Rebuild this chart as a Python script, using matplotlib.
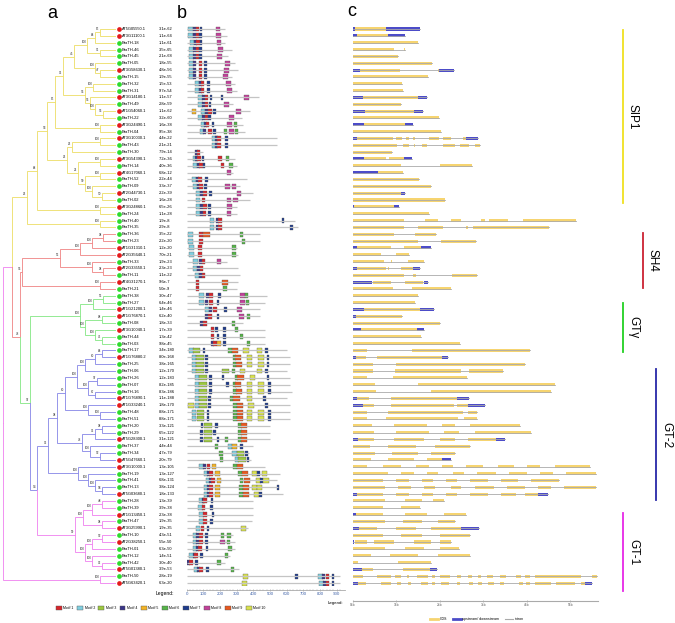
import matplotlib
matplotlib.use("Agg")
import matplotlib.pyplot as plt
from matplotlib.patches import Rectangle, Patch
from matplotlib.lines import Line2D

plt.rcParams['font.family'] = ['Liberation Sans', 'DejaVu Sans']

# ---------------- data ----------------
names = [
    "AT5G05550.1", "AT3G11100.1", "BraTH-18", "BraTH-46", "BraTH-45", "BraTH-05", "AT3G58630.1", "BraTH-15", "BraTH-32", "BraTH-31",
    "AT3G14180.1", "BraTH-49", "AT1G54060.1", "BraTH-22", "AT3G24490.1", "BraTH-04", "AT3G10030.1", "BraTH-43", "BraTH-30", "AT3G54390.1",
    "BraTH-14", "AT4G17060.1", "BraTH-52", "BraTH-09", "AT2G44730.1", "BraTH-02", "AT3G24860.1", "BraTH-24", "BraTH-40", "BraTH-35",
    "BraTH-36", "BraTH-23", "AT1G31310.1", "AT2G35640.1", "BraTH-33", "AT2G33550.1", "BraTH-11", "AT4G31270.1", "BraTH-21", "BraTH-38",
    "BraTH-27", "AT1G21200.1", "AT1G76870.1", "BraTH-08", "AT3G10040.1", "BraTH-44", "BraTH-03", "BraTH-17", "AT1G76880.2", "BraTH-25",
    "BraTH-06", "BraTH-26", "BraTH-07", "BraTH-16", "AT1G76890.1", "AT1G33240.1", "BraTH-48", "BraTH-51", "BraTH-20", "BraTH-29",
    "AT5G28300.1", "BraTH-37", "BraTH-34", "AT5G47660.1", "AT3G10000.1", "BraTH-19", "BraTH-41", "BraTH-13", "AT5G03680.1", "BraTH-28",
    "BraTH-39", "AT1G13450.1", "BraTH-47", "AT3G25990.1", "BraTH-10", "AT2G38250.1", "BraTH-01", "BraTH-12", "BraTH-42", "AT5G01380.1",
    "BraTH-50", "AT5G63420.1"]

evalues = [
    "3.1e-62", "1.1e-64", "1.1e-61", "3.5e-65", "2.1e-68", "1.8e-55", "4.8e-56", "1.9e-55", "1.5e-53", "9.7e-54",
    "1.1e-57", "2.8e-59", "1.1e-62", "3.2e-60", "1.6e-38", "9.5e-38", "4.4e-22", "2.1e-21", "7.9e-14", "7.2e-36",
    "4.0e-36", "6.8e-12", "2.2e-44", "3.3e-37", "2.2e-39", "1.6e-28", "6.5e-26", "1.1e-28", "1.9e-8", "2.9e-8",
    "3.5e-22", "2.2e-20", "1.2e-20", "7.0e-21", "1.9e-23", "2.3e-23", "1.1e-22", "9.6e-7", "5.0e-9", "3.0e-47",
    "6.4e-46", "1.4e-46", "6.2e-40", "1.8e-33", "1.7e-39", "1.3e-42", "9.8e-45", "3.4e-180", "8.0e-168", "3.8e-165",
    "1.2e-170", "1.2e-183", "8.2e-185", "8.3e-186", "1.1e-188", "1.8e-170", "8.8e-171", "8.8e-171", "3.3e-121", "6.5e-122",
    "3.1e-121", "4.4e-44", "4.7e-79", "2.0e-79", "1.3e-105", "1.3e-127", "6.8e-131", "3.8e-124", "1.8e-133", "1.3e-39",
    "3.9e-38", "2.3e-38", "1.9e-35", "1.9e-35", "4.3e-51", "5.5e-50", "6.3e-50", "1.4e-51", "3.0e-40", "3.9e-53",
    "2.8e-19", "6.3e-20"]

# tree (newick, leaves = row numbers, internal labels = bootstrap)
sip1_c = "((9,10)100:8,(11,(12,(13,14)56:8)100:5)56:5)56"
sip1_e = "(((17,18)100:28,19)26:5,((20,21)100:22,((22,23)100:15,(24,(25,26)50:10)100:7)59:7)21:11)26"
sip1 = ("(((((((((1,2)85:5,3)64:8,(4,5)91:13)100:13,(6,(7,8)47:5)100:21)45:11," + sip1_c +
        ":22)96:8,(15,16)100:45)85:8," + sip1_e + ":20)53:10,(27,28)100:63)68:10,(29,30)100:73)26")
sh4 = "(((((31,32)98:11,33)100:12,34)100:20,(35,(36,37)98:11)100:32)95:38,(38,39)100:78)56"
gtg = "(((40,41)95:10,42)100:13,((43,44)88:17,(45,(46,47)76:7)100:10)100:5)100"
gt2_k1 = "(((((48,49)64:7,50)60:10,51)100:8,((52,53)97:9,(54,55)67:7)100:11)100:12,(56,(57,58)100:12)100:23)60"
gt2_k2 = "(((59,60)98:7,61)96:13,(62,(63,64)52:10)100:8)78"
gt2_l = "(65,(66,(67,(68,69)58:7)100:7)100:10)100"
gt2 = "((" + gt2_k1 + ":8," + gt2_k2 + ":25)98:9," + gt2_l + ":30)96"
gt1 = "((((70,71)48:10,72)100:9,(73,74)98:19)100:8,(((75,76)52:10,77)100:7,(78,(79,80)92:10)100:7)100:10)99"
newick = ("((" + sip1 + ":15,(" + sh4 + ":2,(" + gtg + ":50,(" + gt2 + ":11," + gt1 +
          ":38)54:7)97:10)78:8):9,(81,82)100:97);")

clade_names = ["SIP1", "SH4", "GTγ", "GT-2", "GT-1"]
clade_rows = [(0, 29), (30, 38), (39, 46), (47, 68), (69, 81)]
clade_spans = [(0.15, 25.4), (29.8, 37.9), (40.1, 47.2), (49.7, 68.9), (70.8, 82.2)]

# motifs: protein length | motif:start ...
motif_data = [
    "230|2:10 4:36 1:56 7:78 8:174", "240|2:10 4:36 1:54 7:76 8:176", "230|2:20 4:44 1:58 7:78 8:180",
    "270|2:16 4:40 1:56 7:76 8:190", "250|2:16 4:40 1:56 7:76 8:184", "290|2:16 4:38 1:74 7:104 8:230",
    "310|2:16 4:38 1:74 7:104 8:224", "270|2:16 4:38 1:74 7:104 8:220", "290|2:50 4:72 1:86 7:122 8:236",
    "300|2:50 4:72 1:86 7:122 8:244", "436|2:70 4:92 1:110 7:138 7:204 8:346", "280|2:70 4:92 1:110 7:132 8:224",
    "380|5:30 2:84 4:108 1:130 7:160 8:296", "330|2:70 4:92 1:110 7:130 8:256", "340|2:84 4:104 1:116 7:150 8:244 6:284",
    "350|2:80 4:100 1:130 7:160 6:224 8:254 6:290", "540|2:154 4:172 1:184 7:230", "540|2:154 4:172 1:184 7:230",
    "100|4:50 1:60", "290|2:36 4:52 1:64 7:90 1:190 6:236", "300|2:36 4:60 1:76 7:96 1:204 6:256",
    "280|8:240", "360|2:30 4:56 1:70 7:110", "320|2:36 4:60 1:76 7:104 8:230 8:270",
    "400|2:56 4:80 1:100 7:136 8:300", "380|2:56 1:90 8:240 8:280", "304|2:56 4:80 1:100 7:130 8:244",
    "300|2:56 4:80 1:96 7:130 8:240", "650|2:140 4:176 1:190 7:570", "670|2:140 4:176 1:190 7:620",
    "440|2:10 1:76 9:100 6:320", "440|2:10 1:76 6:330", "300|2:16 1:70 6:274",
    "310|2:16 1:70 6:274", "240|2:40 4:76 1:90 8:180", "310|2:36 4:60 1:80",
    "320|2:50 4:76 1:90", "310|1:56 9:210", "304|1:56 6:220",
    "480|2:76 4:116 1:136 7:190 8:320 6:350", "470|2:76 4:110 1:136 7:180 8:320 6:356", "440|2:110 4:136 1:160 7:224 8:304",
    "440|4:110 1:130 7:180 8:316 6:360", "340|4:80 1:100 6:270", "470|1:144 7:170 7:220 6:290",
    "470|1:144 7:180 7:220 6:320", "470|4:144 1:160 5:180 7:220 6:360",
    "600|2:16 3:36 7:96 6:250 9:270 10:340 10:420 7:470", "620|2:30 3:56 7:110 6:276 9:290 10:360 10:430 7:480",
    "620|2:30 3:56 7:110 6:276 9:296 10:360 10:430 7:480", "600|2:30 3:56 7:110 3:210 6:270 10:320 10:420 7:470",
    "620|2:50 3:76 7:136 7:210 6:290 9:304 10:380 7:480", "620|2:50 3:76 7:136 7:236 6:276 9:290 10:360 10:430 7:490",
    "630|2:50 3:76 7:136 6:280 9:296 10:360 10:430 7:490", "600|2:50 3:76 7:130 6:260 9:280 10:360 7:460",
    "620|10:10 2:50 3:76 7:130 6:280 9:300 10:370 7:470", "620|2:30 3:60 7:120 6:280 9:300 10:360 10:430 7:490",
    "620|2:30 3:60 7:120 6:280 9:300 10:360 10:430 7:490", "500|7:84 3:104 7:170 6:310 9:324",
    "500|7:80 3:104 7:160 6:310 9:324", "500|7:80 3:104 7:180 6:230 6:310 9:324",
    "400|6:170 2:246 5:272 7:320", "376|6:196 2:274 3:300 7:350", "384|6:200 2:290 3:310 7:360",
    "470|2:76 4:100 1:120 5:150 6:280 9:300", "560|2:104 4:124 1:136 5:170 6:310 9:330 10:390 7:424 10:450",
    "540|2:116 4:136 1:148 5:180 6:320 9:344 10:416 7:440 10:460", "550|2:104 4:124 1:136 5:170 6:316 9:336 10:390 10:420 7:540",
    "580|2:104 4:124 1:136 5:170 6:316 9:336 10:404 7:436", "396|2:76 4:94 1:100 7:144",
    "396|2:70 1:90 7:140", "400|2:76 1:100 7:150", "390|2:76 1:100 7:140",
    "370|2:56 1:84 7:120 10:324", "280|2:36 4:56 1:76 7:110 6:204 6:244", "290|2:36 4:56 1:76 7:110 8:200 6:240",
    "290|2:36 4:56 1:70 7:114 6:250", "260|2:16 4:40 1:46 7:80 6:230", "230|4:0 1:16 7:50 6:184",
    "316|2:44 4:64 1:76 7:116 6:264", "920|10:336 7:650 2:790 4:812 1:836 7:870", "920|10:330 2:796 4:816 1:836 7:870"]

motif_width = {1: 20, 2: 26, 3: 45, 4: 18, 5: 28, 6: 20, 7: 16, 8: 28, 9: 38, 10: 32}
motif_color = {1: "#D7262B", 2: "#80CFE0", 3: "#9CC83F", 4: "#3A3588", 5: "#F4B426", 6: "#56B449",
               7: "#1E3B8C", 8: "#C2419A", 9: "#E8581F", 10: "#D9E24E"}

# gene structures in kb (U = upstream/downstream, C = CDS)
gene_data = [
    "U 0 .05;C .05 .77;U .77 1.55", "U 0 .09;C .09 .80;U .80 1.20", "C 0 1.51", "C 0 .96;C 1.18 1.20",
    "C 0 1.03", "C 0 1.82", "U 0 .17;C .17 1.09;C 1.95 1.98;U 1.98 2.34", "C 0 1.74", "C 0 1.13", "C 0 1.15",
    "U 0 .23;C .23 1.51;U 1.51 1.71", "C 0 1.11", "U 0 .28;C .28 1.40;U 1.40 1.61", "C 0 1.99",
    "U 0 .25;C .25 1.20;U 1.20 1.39", "C 0 2.02",
    "U 0 .10;C .10 .92;C 1.0 1.13;C 1.23 1.29;C 1.38 1.43;C 1.76 1.99;C 2.07 2.26;C 2.53 2.61;U 2.61 2.87",
    "C 0 1.02;C 1.15 1.30;C 1.40 1.43;C 1.59 1.71;C 2.07 2.35;C 2.47 2.68;C 2.81 2.93",
    "C 0 .90", "U 0 .27;C .27 .77;C .84 1.19;U 1.19 1.36", "C 0 1.11;C 2.01 2.74", "U 0 .59;C .59 1.15",
    "C 0 1.53", "C 0 1.80", "C 0 1.11;U 1.11 1.21", "C 0 2.12", "U 0 .04;C .04 .96;U .96 1.06", "C 0 1.76",
    "C 0 1.19;C 1.66 1.95;C 2.26 2.49;C 2.95 3.03;C 3.14 3.56;C 3.91 5.13",
    "C 0 1.19;C 1.51 2.07;C 2.61 2.66;C 2.76 4.52",
    "C 0 .96;C 1.43 1.92", "C 0 1.51;C 2.03 2.84", "U 0 .11;C .11 .87;C 1.19 1.57;U 1.57 1.79",
    "C 0 .65;C 1.0 1.30", "C 0 .73;C .87 .90;C 1.26 1.65", "U 0 .10;C .10 .77;C .80 .83;C 1.10 1.38;U 1.38 1.55",
    "C 0 1.19;C 1.38 1.46;C 2.28 2.86", "U 0 .44;C .46 .88;C 1.20 1.61;U 1.63 1.72", "C 0 .92;C 1.36 2.26",
    "C 0 1.49", "C 0 1.43", "U 0 .25;C .25 1.55;U 1.55 1.88", "U 0 .08;C .08 1.13", "C 0 2.01",
    "U 0 .19;C .19 1.48;U 1.48 1.63", "C 0 1.57", "C 0 2.47",
    "C 0 .34;C 1.36 4.08", "U 0 .08;C .08 .31;C .57 2.05;U 2.05 2.20", "C 0 .46;C 1.0 3.95",
    "C 0 .46;C .97 2.48;C 2.68 3.45", "C 0 .34;C .92 2.63", "C 0 .51;C 1.51 4.64", "C 0 .54;C 1.80 4.57",
    "U 0 .10;C .10 .38;C .88 2.40;U 2.40 2.68", "U 0 .23;C .23 .50;C .88 2.32;C 2.40 2.66;U 2.66 3.04",
    "C 0 .33;C .82 2.53;C 2.64 2.86", "C 0 .33;C .77 2.43;C 2.55 2.86",
    "C 0 .45;C .95 1.7;C 2.05 2.35;C 2.7 3.85", "C 0 .5;C 1.0 1.75;C 2.1 2.45;C 2.8 4.1",
    "U 0 .12;C .12 .5;C .95 1.65;C 2.0 2.35;C 2.65 3.3;U 3.3 3.5",
    "C 0 .4;C .8 1.45;C 1.9 2.7", "C 0 .51;C .9 1.5;C 1.8 2.35", "C 0 .41;C .8 1.4;C 1.7 2.05;U 2.05 2.25",
    "C 0 .34;C .7 1.1;C 1.45 1.75;C 2.05 2.3;C 2.6 3.0;C 3.35 3.7;C 4.0 4.3;C 4.65 5.45",
    "C 0 .8;C 1.1 1.4;C 1.7 1.95;C 2.3 2.55;C 2.85 3.3;C 3.6 4.0;C 4.3 4.6;C 4.9 5.6",
    "C 0 .7;C 1.0 1.3;C 1.6 1.85;C 2.15 2.4;C 2.7 3.1;C 3.4 3.8;C 4.1 4.75",
    "C 0 .75;C 1.05 1.35;C 1.65 1.9;C 2.25 2.5;C 2.8 3.25;C 3.55 3.95;C 4.25 4.55;C 4.85 5.6",
    "U 0 .1;C .1 .7;C 1.0 1.3;C 1.6 1.85;C 2.15 2.4;C 2.7 3.1;C 3.4 3.75;C 3.95 4.25;U 4.25 4.5",
    "C 0 .75;C 1.2 1.6;C 1.85 2.1", "C 0 .7;C 1.1 1.55", "U 0 .07;C .07 .7;C 1.2 1.7;C 2.1 2.6",
    "C 0 .75;C 1.15 1.6;C 1.95 2.35", "U 0 .15;C .15 .57;C 1.0 1.45;C 1.8 2.5;U 2.5 2.9",
    "C 0 .7;C 1.1 1.6;C 2.0 2.7", "U 0 .04;C .05 .34;C .49 .95;C 1.4 1.8;C 2.0 2.25",
    "C 0 .75;C 1.2 1.65;C 2.0 2.45", "C 0 .41;C .85 1.5;C 1.95 2.7", "C 0 .13;C 1.05 1.79",
    "U 0 .21;C .21 .46;C 1.16 1.77;U 1.77 1.94",
    "C 0 .23;C .57 .87;C .97 1.11;C 1.24 1.30;C 1.47 1.72;C 1.82 1.89;C 2.01 2.24;C 2.39 2.48;C 2.66 2.74;"
    "C 2.87 2.94;C 3.08 3.23;C 3.39 3.52;C 3.75 3.86;C 3.96 4.08;C 4.18 5.24;C 5.51 5.61",
    "U 0 .13;C .13 .31;C .64 .87;C 1.01 1.10;C 1.28 1.33;C 1.57 1.74;C 1.83 1.89;C 2.03 2.22;C 2.39 2.47;"
    "C 2.68 2.76;C 2.89 2.97;C 3.10 3.25;C 3.39 3.48;C 3.82 3.91;C 3.98 4.08;C 4.18 4.57;C 4.67 5.11;"
    "C 5.24 5.34;U 5.34 5.49"]

# ---------------- styling ----------------
W, H = 675, 623
tree_col = {"SIP1": "#EEE070", "SH4": "#F08C8C", "GTγ": "#8CE88C", "GT-2": "#8E8EE8", "GT-1": "#F08AF0"}
bar_col = {"SIP1": "#F0E020", "SH4": "#CC2233", "GTγ": "#22D022", "GT-2": "#2828A8", "GT-1": "#E628E6"}
bar_x = [623, 643, 623, 656, 623]
cds_col, utr_col, intron_col = "#F6D470", "#4C4CC8", "#AAAAAA"

row0, row_step = 29.0, 6.84
n = len(names)
top_px = row0 - row_step / 2
bot_px = row0 + (n - 0.5) * row_step


def panel(x0, x1):
    return fig.add_axes([x0 / W, 1 - bot_px / H, (x1 - x0) / W, (bot_px - top_px) / H])


def parse(s):
    pos = 0

    def node():
        nonlocal pos
        kids = []
        if s[pos] == '(':
            pos += 1
            kids.append(node())
            while s[pos] == ',':
                pos += 1
                kids.append(node())
            pos += 1
        st = pos
        while s[pos] not in ',():;':
            pos += 1
        label = s[st:pos]
        length = 0.0
        if s[pos] == ':':
            pos += 1
            st = pos
            while s[pos] not in ',();':
                pos += 1
            length = float(s[st:pos])
        return {"kids": kids, "label": label, "len": length}

    return node()


leaf_clade = {}
for cname, (a, b) in zip(clade_names, clade_rows):
    for r in range(a, b + 1):
        leaf_clade[r] = cname

fig = plt.figure(figsize=(W / 100, H / 100), dpi=100)

# ---------------- a: tree ----------------
axt = panel(0, 185)
axt.set_xlim(0, 185)
axt.set_ylim(n - 0.5, -0.5)
axt.axis("off")
root_x, tip_x = 3, 115


def layout(nd, x):
    nd["x"] = x
    if not nd["kids"]:
        nd["x"] = tip_x
        nd["y"] = int(nd["label"]) - 1
        nd["clade"] = leaf_clade[nd["y"]]
        return
    for k in nd["kids"]:
        layout(k, x + k["len"])
    nd["y"] = (nd["kids"][0]["y"] + nd["kids"][-1]["y"]) / 2
    nd["clade"] = nd["kids"][0]["clade"]


def draw(nd, is_root=False):
    for k in nd["kids"]:
        c = tree_col["GT-1"] if is_root else tree_col[k["clade"]]
        axt.plot([nd["x"], nd["x"], k["x"]], [nd["y"], k["y"], k["y"]], color=c, lw=0.65,
                 solid_joinstyle="miter")
        draw(k)
    if nd["kids"] and nd["label"]:
        axt.text(nd["x"] - 0.5, nd["y"] - 0.15, nd["label"], fontsize=2.2, ha="right", va="bottom",
                 color="#333333")


tree = parse(newick)
layout(tree, root_x)
draw(tree, is_root=True)

for i, (nm, ev) in enumerate(zip(names, evalues)):
    dot = "#E41A1C" if nm.startswith("AT") else "#2EDB2E"
    axt.plot(118.5, i, "o", ms=3.4, color=dot, mec="none")
    axt.text(122, i, nm, fontsize=2.9, va="center", ha="left")
    axt.text(159, i, ev, fontsize=2.9, va="center", ha="left")

# ---------------- b: motifs ----------------
m_left, m_px_per_aa, m_max = 186.7, 0.1667, 950
axm = panel(m_left, m_left + m_max * m_px_per_aa)
axm.set_xlim(0, m_max)
axm.set_ylim(n - 0.5, -0.5)
axm.axis("off")
for i, rec in enumerate(motif_data):
    length, sites = rec.split("|")
    axm.plot([0, float(length)], [i, i], color="#C4C4C4", lw=0.9, solid_capstyle="butt")
    for item in sites.split():
        m, st = item.split(":")
        m, st = int(m), float(st)
        axm.add_patch(Rectangle((st, i - 0.36), motif_width[m], 0.72, facecolor=motif_color[m],
                                edgecolor="#555555", lw=0.25))

axs = fig.add_axes([m_left / W, 1 - 590 / H, m_max * m_px_per_aa / W, 0.0001])
axs.set_xlim(0, m_max)
axs.set_yticks([])
for sp in ["top", "left", "right"]:
    axs.spines[sp].set_visible(False)
axs.spines["bottom"].set_color("#AAAAAA")
axs.spines["bottom"].set_linewidth(0.6)
axs.set_xticks(range(0, 901, 100))
axs.set_xticks(range(0, 931, 20), minor=True)
axs.tick_params(axis="x", labelsize=3.2, labelcolor="#4466AA", color="#888888", length=1.5, width=0.4, pad=1,
                direction="inout")
axs.tick_params(axis="x", which="minor", length=1, width=0.3, color="#AAAAAA", direction="inout")
fig.text(156 / W, 1 - 593 / H, "Legend:", fontsize=3.6, va="center")

m_handles = [Patch(facecolor=motif_color[k], edgecolor="#555555", lw=0.3) for k in range(1, 11)]
fig.legend(m_handles, ["Motif %d" % k for k in range(1, 11)], loc="center",
           bbox_to_anchor=(161 / W, 1 - 608 / H), ncol=10, fontsize=2.5, frameon=False,
           handlelength=1.7, handleheight=1.3, columnspacing=1.0, handletextpad=0.4)

# ---------------- c: gene structure ----------------
g_left, g_px_per_kb, g_max = 352.7, 43.5, 5.63
axg = panel(g_left, g_left + g_max * g_px_per_kb)
axg.set_xlim(0, g_max)
axg.set_ylim(n - 0.5, -0.5)
axg.axis("off")
for i, rec in enumerate(gene_data):
    segs = []
    for part in rec.split(";"):
        kind, a, b = part.split()
        segs.append((kind, float(a), float(b)))
    end = max(s[2] for s in segs)
    axg.plot([0, end], [i, i], color=intron_col, lw=0.6)
    for kind, a, b in segs:
        col = cds_col if kind == "C" else utr_col
        axg.add_patch(Rectangle((a, i - 0.22), b - a, 0.44, facecolor=col, edgecolor="none"))

axk = fig.add_axes([g_left / W, 1 - 600.7 / H, g_max * g_px_per_kb / W, 0.0001])
axk.set_xlim(0, g_max)
axk.set_yticks([])
for sp in ["top", "left", "right"]:
    axk.spines[sp].set_visible(False)
axk.spines["bottom"].set_color("#AAAAAA")
axk.spines["bottom"].set_linewidth(0.8)
axk.set_xticks(range(0, 6))
axk.set_xticklabels(["%dkb" % k for k in range(0, 6)])
axk.tick_params(axis="x", labelsize=2.4, labelcolor="#555555", color="#888888", length=1.5, width=0.4,
                pad=1, direction="inout")
fig.text(328 / W, 1 - 603 / H, "Legend:", fontsize=3.2, va="center")

g_handles = [Line2D([], [], color=cds_col, lw=2), Line2D([], [], color=utr_col, lw=2),
             Line2D([], [], color=intron_col, lw=0.8)]
fig.legend(g_handles, ["CDS", "upstream/ downstream", "intron"], loc="center",
           bbox_to_anchor=(477 / W, 1 - 619 / H), ncol=3, fontsize=2.6, frameon=False,
           handlelength=2.2, columnspacing=1.5, handletextpad=0.5)

# ---------------- clade bars ----------------
axc = panel(600, 675)
axc.set_xlim(600, 675)
axc.set_ylim(n - 0.5, -0.5)
axc.axis("off")
for cname, (a, b), bx in zip(clade_names, clade_spans, bar_x):
    axc.plot([bx, bx], [a, b], color=bar_col[cname], lw=1.3, clip_on=False)
    axc.text(bx + 10, (a + b) / 2, cname, rotation=-90, fontsize=8.5, ha="center", va="center",
             clip_on=False)

# panel letters
for lab, x, y in [("a", 52, 13), ("b", 182, 13), ("c", 352, 11)]:
    fig.text(x / W, 1 - y / H, lab, fontsize=13, ha="center", va="center")

fig.savefig("out.png", dpi=100)
